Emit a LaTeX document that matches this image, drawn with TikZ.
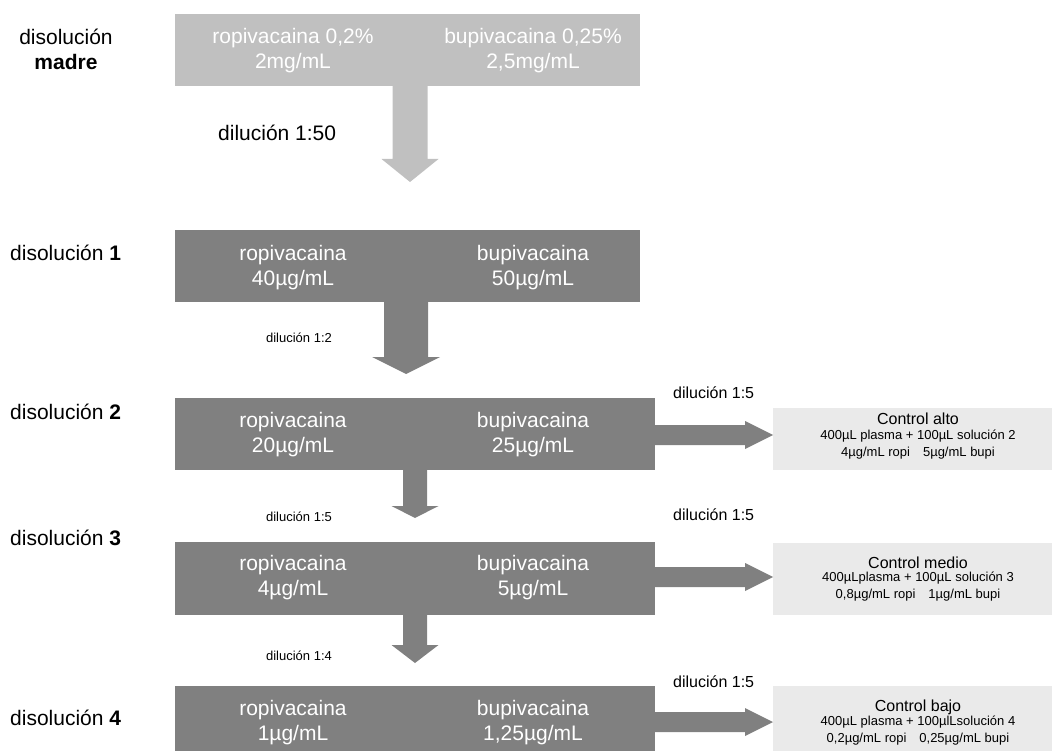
\documentclass[tikz,border=0pt]{standalone}
\usepackage{fontspec}
\setmainfont{Liberation Sans}
\usetikzlibrary{calc}

\definecolor{stockgray}{HTML}{C0C0C0}
\definecolor{dilgray}{HTML}{808080}
\definecolor{ctrlgray}{HTML}{EAEAEA}

% downward block arrow: [style]{source node}{tip}{shaft half}{head half}{head length}
\newcommand\vblock[6][]{%
  \fill[#1] ($(#2.south -| #3)+(-#4,0)$) -- ($(#3)+(-#4,-#6)$) -- ($(#3)+(-#5,-#6)$)
    -- (#3) -- ($(#3)+(#5,-#6)$) -- ($(#3)+(#4,-#6)$) -- ($(#2.south -| #3)+(#4,0)$) -- cycle;}
% rightward block arrow: [style]{source node}{tip}{shaft half}{head half}{head length}
\newcommand\hblock[6][]{%
  \fill[#1] ($(#2.east |- #3)+(0,-#4)$) -- ($(#3)+(-#6,-#4)$) -- ($(#3)+(-#6,-#5)$)
    -- (#3) -- ($(#3)+(-#6,#5)$) -- ($(#3)+(-#6,#4)$) -- ($(#2.east |- #3)+(0,#4)$) -- cycle;}

\begin{document}
\begin{tikzpicture}[x=1pt,y=-1pt,
  solbox/.style={rectangle, inner sep=0pt, outer sep=0pt, minimum height=72pt},
  bigtxt/.style={inner sep=0pt, align=center, font=\fontsize{21}{25}\selectfont},
  boxtxt/.style={bigtxt, text=white},
  sidelabel/.style={inner sep=0pt, anchor=west, font=\fontsize{21}{25}\selectfont},
  smalllabel/.style={inner sep=0pt, font=\fontsize{13}{16}\selectfont},
  dillabel/.style={inner sep=0pt, anchor=west, font=\fontsize{16}{19}\selectfont},
  ctrltitle/.style={inner sep=0pt, font=\fontsize{16}{19}\selectfont},
  ctrldetail/.style={inner sep=0pt, align=center, font=\fontsize{13}{17}\selectfont},
]
\useasboundingbox (0,0) rectangle (1052,751);

% stock and dilution boxes
\node[solbox, fill=stockgray, minimum width=465pt] (m)  at (407.5,50) {};
\node[solbox, fill=dilgray,   minimum width=465pt] (b1) at (407.5,266) {};
\node[solbox, fill=dilgray,   minimum width=480pt] (b2) at (415,434) {};
\node[solbox, fill=dilgray,   minimum width=480pt, minimum height=73pt] (b3) at (415,578.5) {};
\node[solbox, fill=dilgray,   minimum width=480pt, minimum height=65pt] (b4) at (415,718.5) {};

% quality-control boxes
\node[solbox, fill=ctrlgray, minimum width=279pt, minimum height=62pt] (c2) at (912.5,439) {};
\node[solbox, fill=ctrlgray, minimum width=279pt, minimum height=72pt] (c3) at (912.5,579) {};
\node[solbox, fill=ctrlgray, minimum width=279pt, minimum height=65pt] (c4) at (912.5,718.5) {};

% arrow tips
\coordinate (tm) at (410,182);
\coordinate (t1) at (406,374);
\coordinate (t2) at (415,518);
\coordinate (t3) at (415,663);
\coordinate (h2) at (c2.west |- 0,435);
\coordinate (h3) at (c3.west |- 0,577);
\coordinate (h4) at (c4.west |- 0,722);

\vblock[stockgray]{m}{tm}{17.5}{28.5}{23}
\vblock[dilgray]{b1}{t1}{22}{34}{17}
\vblock[dilgray]{b2}{t2}{12}{23.5}{12}
\vblock[dilgray]{b3}{t3}{12}{23.5}{18}
\hblock[dilgray]{b2}{h2}{10}{14}{28}
\hblock[dilgray]{b3}{h3}{10}{14}{28}
\hblock[dilgray]{b4}{h4}{10}{14}{28}

% box contents
\node[boxtxt] (mr) at (293,50.5) {ropivacaina 0,2\%\\2mg/mL};
\node[boxtxt] (mb) at (533,50.5) {bupivacaina 0,25\%\\2,5mg/mL};
\node[boxtxt] (r1) at (293,267.5) {ropivacaina\\40µg/mL};
\node[boxtxt] (p1) at (533,267.5) {bupivacaina\\50µg/mL};
\node[boxtxt] (r2) at (293,434.5) {ropivacaina\\20µg/mL};
\node[boxtxt] (p2) at (533,434.5) {bupivacaina\\25µg/mL};
\node[boxtxt] (r3) at (293,577.5) {ropivacaina\\4µg/mL};
\node[boxtxt] (p3) at (533,577.5) {bupivacaina\\5µg/mL};
\node[boxtxt] (r4) at (293,722.5) {ropivacaina\\1µg/mL};
\node[boxtxt] (p4) at (533,722.5) {bupivacaina\\1,25µg/mL};

% side labels
\node[bigtxt] (lm) at (66,49.5) {disolución\\\textbf{madre}};
\node[sidelabel] (l1) at (10,253) {disolución \textbf{1}};
\node[sidelabel] (l2) at (10,412) {disolución \textbf{2}};
\node[sidelabel] (l3) at (10,538) {disolución \textbf{3}};
\node[sidelabel] (l4) at (10,718) {disolución \textbf{4}};

% dilution labels
\node[sidelabel] (d0) at (218,133) {dilución 1:50};
\node[smalllabel] (d1) at (299,338) {dilución 1:2};
\node[smalllabel] (d2) at (299,517) {dilución 1:5};
\node[smalllabel] (d3) at (299,656) {dilución 1:4};
\node[dillabel] (e2) at (673,393) {dilución 1:5};
\node[dillabel] (e3) at (673,515) {dilución 1:5};
\node[dillabel] (e4) at (673,682) {dilución 1:5};

% control contents
\node[ctrltitle] (ct2) at (918,419) {Control alto};
\node[ctrldetail] (cd2) at (918,444.5) {400µL plasma + 100µL solución 2\\4µg/mL ropi\quad 5µg/mL bupi};
\node[ctrltitle] (ct3) at (918,563) {Control medio};
\node[ctrldetail] (cd3) at (918,586.5) {400µLplasma + 100µL solución 3\\0,8µg/mL ropi\quad 1µg/mL bupi};
\node[ctrltitle] (ct4) at (918,707) {Control bajo};
\node[ctrldetail] (cd4) at (918,731) {400µL plasma + 100µlLsolución 4\\0,2µg/mL ropi\quad 0,25µg/mL bupi};
\end{tikzpicture}
\end{document}
